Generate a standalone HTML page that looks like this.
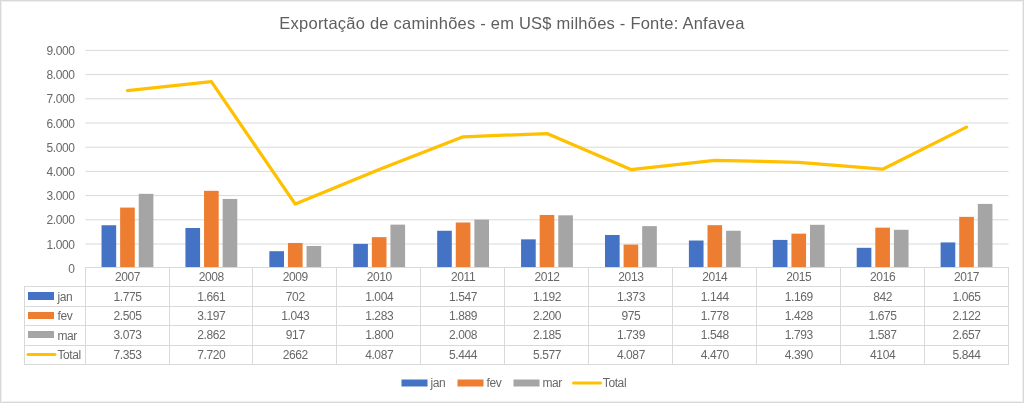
<!DOCTYPE html><html><head><meta charset="utf-8"><style>html,body{margin:0;padding:0;background:#fff;}svg{display:block;will-change:transform;}text{font-family:"Liberation Sans",sans-serif;fill:#686868;}</style></head><body>
<svg width="1024" height="403" viewBox="0 0 1024 403">
<rect x="0" y="0" width="1024" height="403" fill="#fff"/>
<rect x="1.5" y="1.5" width="1021" height="400" fill="none" stroke="#EFEFEF" stroke-width="1"/>
<rect x="0.5" y="0.5" width="1023" height="402" fill="none" stroke="#D9D9D9" stroke-width="1"/>
<text x="512" y="29" font-size="16.5" letter-spacing="0.23" style="fill:#5e5e5e" text-anchor="middle">Exportação de caminhões - em US$ milhões - Fonte: Anfavea</text>
<line x1="85.5" y1="244.0" x2="1008.5" y2="244.0" stroke="#D9D9D9" stroke-width="1"/>
<line x1="85.5" y1="219.8" x2="1008.5" y2="219.8" stroke="#D9D9D9" stroke-width="1"/>
<line x1="85.5" y1="195.6" x2="1008.5" y2="195.6" stroke="#D9D9D9" stroke-width="1"/>
<line x1="85.5" y1="171.4" x2="1008.5" y2="171.4" stroke="#D9D9D9" stroke-width="1"/>
<line x1="85.5" y1="147.2" x2="1008.5" y2="147.2" stroke="#D9D9D9" stroke-width="1"/>
<line x1="85.5" y1="123.0" x2="1008.5" y2="123.0" stroke="#D9D9D9" stroke-width="1"/>
<line x1="85.5" y1="98.8" x2="1008.5" y2="98.8" stroke="#D9D9D9" stroke-width="1"/>
<line x1="85.5" y1="74.6" x2="1008.5" y2="74.6" stroke="#D9D9D9" stroke-width="1"/>
<line x1="85.5" y1="50.4" x2="1008.5" y2="50.4" stroke="#D9D9D9" stroke-width="1"/>
<text x="74.5" y="272.7" font-size="12" letter-spacing="-0.4" text-anchor="end">0</text>
<text x="74.5" y="248.5" font-size="12" letter-spacing="-0.4" text-anchor="end">1.000</text>
<text x="74.5" y="224.3" font-size="12" letter-spacing="-0.4" text-anchor="end">2.000</text>
<text x="74.5" y="200.1" font-size="12" letter-spacing="-0.4" text-anchor="end">3.000</text>
<text x="74.5" y="175.9" font-size="12" letter-spacing="-0.4" text-anchor="end">4.000</text>
<text x="74.5" y="151.7" font-size="12" letter-spacing="-0.4" text-anchor="end">5.000</text>
<text x="74.5" y="127.5" font-size="12" letter-spacing="-0.4" text-anchor="end">6.000</text>
<text x="74.5" y="103.3" font-size="12" letter-spacing="-0.4" text-anchor="end">7.000</text>
<text x="74.5" y="79.1" font-size="12" letter-spacing="-0.4" text-anchor="end">8.000</text>
<text x="74.5" y="54.9" font-size="12" letter-spacing="-0.4" text-anchor="end">9.000</text>
<rect x="101.53" y="225.25" width="14.64" height="42.25" fill="#4472C4"/>
<rect x="120.13" y="207.58" width="14.64" height="59.92" fill="#ED7D31"/>
<rect x="138.73" y="193.83" width="14.64" height="73.67" fill="#A5A5A5"/>
<rect x="185.44" y="228.00" width="14.64" height="39.50" fill="#4472C4"/>
<rect x="204.04" y="190.83" width="14.64" height="76.67" fill="#ED7D31"/>
<rect x="222.64" y="198.94" width="14.64" height="68.56" fill="#A5A5A5"/>
<rect x="269.35" y="251.21" width="14.64" height="16.29" fill="#4472C4"/>
<rect x="287.95" y="242.96" width="14.64" height="24.54" fill="#ED7D31"/>
<rect x="306.55" y="246.01" width="14.64" height="21.49" fill="#A5A5A5"/>
<rect x="353.26" y="243.90" width="14.64" height="23.60" fill="#4472C4"/>
<rect x="371.86" y="237.15" width="14.64" height="30.35" fill="#ED7D31"/>
<rect x="390.46" y="224.64" width="14.64" height="42.86" fill="#A5A5A5"/>
<rect x="437.17" y="230.76" width="14.64" height="36.74" fill="#4472C4"/>
<rect x="455.77" y="222.49" width="14.64" height="45.01" fill="#ED7D31"/>
<rect x="474.37" y="219.61" width="14.64" height="47.89" fill="#A5A5A5"/>
<rect x="521.08" y="239.35" width="14.64" height="28.15" fill="#4472C4"/>
<rect x="539.68" y="214.96" width="14.64" height="52.54" fill="#ED7D31"/>
<rect x="558.28" y="215.32" width="14.64" height="52.18" fill="#A5A5A5"/>
<rect x="604.99" y="234.97" width="14.64" height="32.53" fill="#4472C4"/>
<rect x="623.59" y="244.60" width="14.64" height="22.90" fill="#ED7D31"/>
<rect x="642.18" y="226.12" width="14.64" height="41.38" fill="#A5A5A5"/>
<rect x="688.90" y="240.52" width="14.64" height="26.98" fill="#4472C4"/>
<rect x="707.50" y="225.17" width="14.64" height="42.33" fill="#ED7D31"/>
<rect x="726.09" y="230.74" width="14.64" height="36.76" fill="#A5A5A5"/>
<rect x="772.81" y="239.91" width="14.64" height="27.59" fill="#4472C4"/>
<rect x="791.41" y="233.64" width="14.64" height="33.86" fill="#ED7D31"/>
<rect x="810.00" y="224.81" width="14.64" height="42.69" fill="#A5A5A5"/>
<rect x="856.72" y="247.82" width="14.64" height="19.68" fill="#4472C4"/>
<rect x="875.31" y="227.66" width="14.64" height="39.84" fill="#ED7D31"/>
<rect x="893.91" y="229.79" width="14.64" height="37.71" fill="#A5A5A5"/>
<rect x="940.63" y="242.43" width="14.64" height="25.07" fill="#4472C4"/>
<rect x="959.22" y="216.85" width="14.64" height="50.65" fill="#ED7D31"/>
<rect x="977.82" y="203.90" width="14.64" height="63.60" fill="#A5A5A5"/>
<polyline points="127.45,90.56 211.36,81.68 295.27,204.08 379.18,169.59 463.09,136.76 547.00,133.54 630.91,169.59 714.82,160.33 798.73,162.26 882.64,169.18 966.55,127.08" fill="none" stroke="#FFC000" stroke-width="3.25" stroke-linejoin="round" stroke-linecap="round"/>
<line x1="85.1" y1="267.5" x2="1009.0" y2="267.5" stroke="#D9D9D9"/>
<line x1="24.0" y1="286.5" x2="1009.0" y2="286.5" stroke="#D9D9D9"/>
<line x1="24.0" y1="306.5" x2="1009.0" y2="306.5" stroke="#D9D9D9"/>
<line x1="24.0" y1="325.5" x2="1009.0" y2="325.5" stroke="#D9D9D9"/>
<line x1="24.0" y1="345.5" x2="1009.0" y2="345.5" stroke="#D9D9D9"/>
<line x1="24.0" y1="364.5" x2="1009.0" y2="364.5" stroke="#D9D9D9"/>
<line x1="85.5" y1="267" x2="85.5" y2="365" stroke="#D9D9D9"/>
<line x1="169.5" y1="267" x2="169.5" y2="365" stroke="#D9D9D9"/>
<line x1="252.5" y1="267" x2="252.5" y2="365" stroke="#D9D9D9"/>
<line x1="336.5" y1="267" x2="336.5" y2="365" stroke="#D9D9D9"/>
<line x1="420.5" y1="267" x2="420.5" y2="365" stroke="#D9D9D9"/>
<line x1="504.5" y1="267" x2="504.5" y2="365" stroke="#D9D9D9"/>
<line x1="588.5" y1="267" x2="588.5" y2="365" stroke="#D9D9D9"/>
<line x1="672.5" y1="267" x2="672.5" y2="365" stroke="#D9D9D9"/>
<line x1="756.5" y1="267" x2="756.5" y2="365" stroke="#D9D9D9"/>
<line x1="840.5" y1="267" x2="840.5" y2="365" stroke="#D9D9D9"/>
<line x1="924.5" y1="267" x2="924.5" y2="365" stroke="#D9D9D9"/>
<line x1="1008.5" y1="267" x2="1008.5" y2="365" stroke="#D9D9D9"/>
<line x1="24.5" y1="286" x2="24.5" y2="365" stroke="#D9D9D9"/>
<text x="127.45" y="281" font-size="12" letter-spacing="-0.4" text-anchor="middle">2007</text>
<text x="211.36" y="281" font-size="12" letter-spacing="-0.4" text-anchor="middle">2008</text>
<text x="295.27" y="281" font-size="12" letter-spacing="-0.4" text-anchor="middle">2009</text>
<text x="379.18" y="281" font-size="12" letter-spacing="-0.4" text-anchor="middle">2010</text>
<text x="463.09" y="281" font-size="12" letter-spacing="-0.4" text-anchor="middle">2011</text>
<text x="547.00" y="281" font-size="12" letter-spacing="-0.4" text-anchor="middle">2012</text>
<text x="630.91" y="281" font-size="12" letter-spacing="-0.4" text-anchor="middle">2013</text>
<text x="714.82" y="281" font-size="12" letter-spacing="-0.4" text-anchor="middle">2014</text>
<text x="798.73" y="281" font-size="12" letter-spacing="-0.4" text-anchor="middle">2015</text>
<text x="882.64" y="281" font-size="12" letter-spacing="-0.4" text-anchor="middle">2016</text>
<text x="966.55" y="281" font-size="12" letter-spacing="-0.4" text-anchor="middle">2017</text>
<text x="127.45" y="300.5" font-size="12" letter-spacing="-0.4" text-anchor="middle">1.775</text>
<text x="211.36" y="300.5" font-size="12" letter-spacing="-0.4" text-anchor="middle">1.661</text>
<text x="295.27" y="300.5" font-size="12" letter-spacing="-0.4" text-anchor="middle">702</text>
<text x="379.18" y="300.5" font-size="12" letter-spacing="-0.4" text-anchor="middle">1.004</text>
<text x="463.09" y="300.5" font-size="12" letter-spacing="-0.4" text-anchor="middle">1.547</text>
<text x="547.00" y="300.5" font-size="12" letter-spacing="-0.4" text-anchor="middle">1.192</text>
<text x="630.91" y="300.5" font-size="12" letter-spacing="-0.4" text-anchor="middle">1.373</text>
<text x="714.82" y="300.5" font-size="12" letter-spacing="-0.4" text-anchor="middle">1.144</text>
<text x="798.73" y="300.5" font-size="12" letter-spacing="-0.4" text-anchor="middle">1.169</text>
<text x="882.64" y="300.5" font-size="12" letter-spacing="-0.4" text-anchor="middle">842</text>
<text x="966.55" y="300.5" font-size="12" letter-spacing="-0.4" text-anchor="middle">1.065</text>
<text x="127.45" y="319.8" font-size="12" letter-spacing="-0.4" text-anchor="middle">2.505</text>
<text x="211.36" y="319.8" font-size="12" letter-spacing="-0.4" text-anchor="middle">3.197</text>
<text x="295.27" y="319.8" font-size="12" letter-spacing="-0.4" text-anchor="middle">1.043</text>
<text x="379.18" y="319.8" font-size="12" letter-spacing="-0.4" text-anchor="middle">1.283</text>
<text x="463.09" y="319.8" font-size="12" letter-spacing="-0.4" text-anchor="middle">1.889</text>
<text x="547.00" y="319.8" font-size="12" letter-spacing="-0.4" text-anchor="middle">2.200</text>
<text x="630.91" y="319.8" font-size="12" letter-spacing="-0.4" text-anchor="middle">975</text>
<text x="714.82" y="319.8" font-size="12" letter-spacing="-0.4" text-anchor="middle">1.778</text>
<text x="798.73" y="319.8" font-size="12" letter-spacing="-0.4" text-anchor="middle">1.428</text>
<text x="882.64" y="319.8" font-size="12" letter-spacing="-0.4" text-anchor="middle">1.675</text>
<text x="966.55" y="319.8" font-size="12" letter-spacing="-0.4" text-anchor="middle">2.122</text>
<text x="127.45" y="339.2" font-size="12" letter-spacing="-0.4" text-anchor="middle">3.073</text>
<text x="211.36" y="339.2" font-size="12" letter-spacing="-0.4" text-anchor="middle">2.862</text>
<text x="295.27" y="339.2" font-size="12" letter-spacing="-0.4" text-anchor="middle">917</text>
<text x="379.18" y="339.2" font-size="12" letter-spacing="-0.4" text-anchor="middle">1.800</text>
<text x="463.09" y="339.2" font-size="12" letter-spacing="-0.4" text-anchor="middle">2.008</text>
<text x="547.00" y="339.2" font-size="12" letter-spacing="-0.4" text-anchor="middle">2.185</text>
<text x="630.91" y="339.2" font-size="12" letter-spacing="-0.4" text-anchor="middle">1.739</text>
<text x="714.82" y="339.2" font-size="12" letter-spacing="-0.4" text-anchor="middle">1.548</text>
<text x="798.73" y="339.2" font-size="12" letter-spacing="-0.4" text-anchor="middle">1.793</text>
<text x="882.64" y="339.2" font-size="12" letter-spacing="-0.4" text-anchor="middle">1.587</text>
<text x="966.55" y="339.2" font-size="12" letter-spacing="-0.4" text-anchor="middle">2.657</text>
<text x="127.45" y="358.5" font-size="12" letter-spacing="-0.4" text-anchor="middle">7.353</text>
<text x="211.36" y="358.5" font-size="12" letter-spacing="-0.4" text-anchor="middle">7.720</text>
<text x="295.27" y="358.5" font-size="12" letter-spacing="-0.4" text-anchor="middle">2662</text>
<text x="379.18" y="358.5" font-size="12" letter-spacing="-0.4" text-anchor="middle">4.087</text>
<text x="463.09" y="358.5" font-size="12" letter-spacing="-0.4" text-anchor="middle">5.444</text>
<text x="547.00" y="358.5" font-size="12" letter-spacing="-0.4" text-anchor="middle">5.577</text>
<text x="630.91" y="358.5" font-size="12" letter-spacing="-0.4" text-anchor="middle">4.087</text>
<text x="714.82" y="358.5" font-size="12" letter-spacing="-0.4" text-anchor="middle">4.470</text>
<text x="798.73" y="358.5" font-size="12" letter-spacing="-0.4" text-anchor="middle">4.390</text>
<text x="882.64" y="358.5" font-size="12" letter-spacing="-0.4" text-anchor="middle">4104</text>
<text x="966.55" y="358.5" font-size="12" letter-spacing="-0.4" text-anchor="middle">5.844</text>
<rect x="28" y="292" width="26" height="8" fill="#4472C4"/>
<rect x="28" y="312" width="26" height="7" fill="#ED7D31"/>
<rect x="28" y="331" width="26" height="7" fill="#A5A5A5"/>
<line x1="28" y1="354.5" x2="55" y2="354.5" stroke="#FFC000" stroke-width="3" stroke-linecap="round"/>
<text x="57.5" y="300.9" font-size="12" letter-spacing="-0.4">jan</text>
<text x="57.5" y="320.1" font-size="12" letter-spacing="-0.4">fev</text>
<text x="57.5" y="339.5" font-size="12" letter-spacing="-0.4">mar</text>
<text x="57.5" y="358.9" font-size="12" letter-spacing="-0.4">Total</text>
<rect x="401.5" y="379.5" width="26" height="7" fill="#4472C4"/>
<text x="430.5" y="386.5" font-size="12" letter-spacing="-0.4">jan</text>
<rect x="457.5" y="379.5" width="26" height="7" fill="#ED7D31"/>
<text x="486.5" y="386.5" font-size="12" letter-spacing="-0.4">fev</text>
<rect x="513.5" y="379.5" width="26" height="7" fill="#A5A5A5"/>
<text x="542.5" y="386.5" font-size="12" letter-spacing="-0.4">mar</text>
<line x1="573.5" y1="383" x2="600.5" y2="383" stroke="#FFC000" stroke-width="3" stroke-linecap="round"/>
<text x="602.8" y="386.5" font-size="12" letter-spacing="-0.4">Total</text>
</svg></body></html>
